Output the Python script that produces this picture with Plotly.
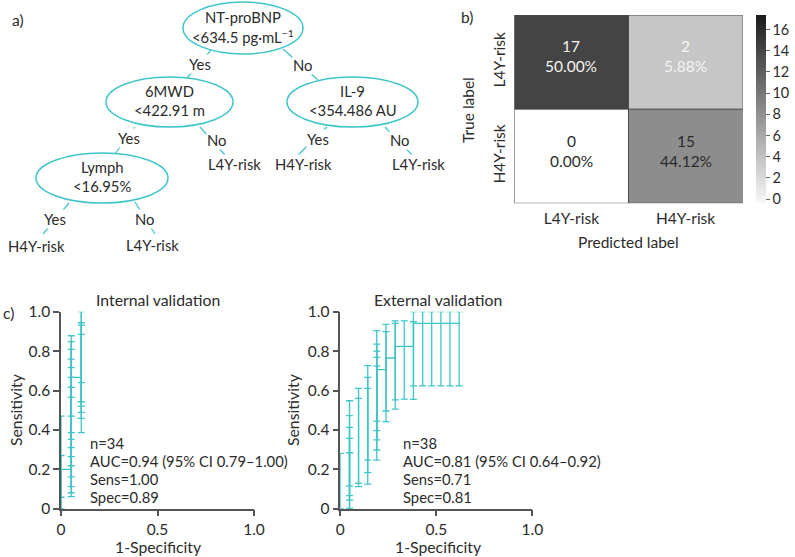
import plotly.graph_objects as go

W, H = 795, 557
FONT = "Lato"
TXT = "#2b2b2b"
CYAN = "#3ec5c9"
AXC = "#555555"

# ---------------- data ----------------
# a) decision tree
node_titles = ["NT-proBNP", "6MWD", "IL-9", "Lymph"]
node_rules = ["<634.5 pg·mL<sup>−1</sup>", "<422.91 m", "<354.486 AU", "<16.95%"]
edge_labels = ["Yes", "No", "Yes", "No", "Yes", "No", "Yes", "No"]
leaf_labels = ["L4Y-risk", "H4Y-risk", "L4Y-risk", "H4Y-risk", "L4Y-risk"]

# b) confusion matrix
cm_labels = ["L4Y-risk", "H4Y-risk"]
cm_counts = [[17, 2], [0, 15]]
cm_percent = [["50.00%", "5.88%"], ["0.00%", "44.12%"]]
cbar_ticks = [0, 2, 4, 6, 8, 10, 12, 14, 16]

# c) ROC with 95% CI - internal validation
int_fpr = [0.0, 0.0, 0.053, 0.053, 0.053, 0.053, 0.053, 0.053, 0.053, 0.053, 0.053,
           0.105, 0.105, 0.105, 0.105, 0.105]
int_sens = [0.067, 0.200, 0.200, 0.200, 0.267, 0.333, 0.400, 0.467, 0.533, 0.600, 0.667,
            0.600, 0.667, 0.733, 0.800, 0.867]
int_lo = [0.000, 0.058, 0.061, 0.081, 0.112, 0.162, 0.218, 0.264, 0.310, 0.352, 0.386,
          0.386, 0.459, 0.489, 0.521, 0.543]
int_hi = [0.270, 0.470, 0.470, 0.565, 0.616, 0.667, 0.716, 0.759, 0.809, 0.848, 0.878,
          0.640, 0.885, 0.932, 0.944, 1.000]
int_curve_x = [0.0, 0.0, 0.053, 0.053, 0.105, 0.105]
int_curve_y = [0.0, 0.200, 0.200, 0.667, 0.667, 1.0]
int_stats = ["n=34", "AUC=0.94 (95% CI 0.79–1.00)", "Sens=1.00", "Spec=0.89"]

# external validation
ext_fpr = [0.0,
           0.048, 0.048, 0.048, 0.048, 0.048,
           0.095, 0.095,
           0.143, 0.143, 0.143,
           0.190, 0.190, 0.190, 0.190, 0.190,
           0.238, 0.238,
           0.286, 0.286,
           0.333,
           0.381, 0.381,
           0.429, 0.476, 0.524, 0.571, 0.619]
ext_sens = [0.059,
            0.059, 0.118, 0.176, 0.235, 0.294,
            0.294, 0.353,
            0.353, 0.412, 0.471,
            0.471, 0.529, 0.588, 0.647, 0.706,
            0.706, 0.765,
            0.765, 0.824,
            0.824,
            0.824, 0.941,
            0.941, 0.941, 0.941, 0.941, 0.941]
ext_lo = [0.000,
          0.000, 0.002, 0.044, 0.066, 0.115,
          0.112, 0.129,
          0.125, 0.183, 0.247,
          0.247, 0.298, 0.349, 0.396, 0.445,
          0.442, 0.496,
          0.505, 0.552,
          0.556,
          0.555, 0.623,
          0.623, 0.623, 0.623, 0.623, 0.623]
ext_hi = [0.281,
          0.284, 0.357, 0.413, 0.472, 0.548,
          0.560, 0.611,
          0.611, 0.667, 0.726,
          0.724, 0.768, 0.800, 0.835, 0.904,
          0.899, 0.936,
          0.941, 0.953,
          0.953,
          0.949, 1.000,
          1.000, 1.000, 1.000, 1.000, 1.000]
ext_curve_x = [0.190, 0.238, 0.238, 0.286, 0.286, 0.381, 0.381, 0.619]
ext_curve_y = [0.706, 0.706, 0.765, 0.765, 0.824, 0.824, 0.941, 0.941]
ext_stats = ["n=38", "AUC=0.81 (95% CI 0.64–0.92)", "Sens=0.71", "Spec=0.81"]

roc_ticks_x = [0, 0.5, 1.0]
roc_ticktext_x = ["0", "0.5", "1.0"]
roc_ticks_y = [0, 0.2, 0.4, 0.6, 0.8, 1.0]
roc_ticktext_y = ["0", "0.2", "0.4", "0.6", "0.8", "1.0"]


# ---------------- helpers (layout positions in px) ----------------
def px(x):
    return x / W


def py(y):
    return 1 - y / H


def label(x, y, text, size=15.5, xanchor="center", angle=0, color=TXT):
    return dict(xref="paper", yref="paper", x=px(x), y=py(y), text=text,
                xanchor=xanchor, yanchor="middle", textangle=angle, showarrow=False,
                font=dict(size=size, color=color, family=FONT))


fig = go.Figure()
annotations = []
shapes = []
TREE_FS = 14.8

# ---------------- a) tree ----------------
node_centers = [(243, 28), (169.5, 102), (352.5, 102), (102, 178)]
node_radii = [(60, 26), (63.5, 25), (65.5, 25), (66, 25)]
edge_segments = [
    ((211, 50), (187, 78), (200, 64)),
    ((283, 49), (318, 80), (302, 65)),
    ((135, 127), (115, 154), (129, 138)),
    ((200, 127), (226, 156), (216, 140)),
    ((327, 127), (297, 156), (317.5, 139)),
    ((385, 127), (414, 157), (399, 140)),
    ((69, 203), (43, 234), (55, 218.5)),
    ((135, 202), (155, 234), (144, 219)),
]
leaf_pos = [(234, 164), (303, 164), (418.5, 164), (36, 246), (152, 245)]

for (x0, y0), (x1, y1), _ in edge_segments:
    shapes.append(dict(type="line", xref="x", yref="y", x0=x0, y0=y0, x1=x1, y1=y1,
                       line=dict(color=CYAN, width=1.2), layer="below"))
for (cx, cy), (rx, ry) in zip(node_centers, node_radii):
    shapes.append(dict(type="circle", xref="x", yref="y", x0=cx - rx, x1=cx + rx,
                       y0=cy - ry, y1=cy + ry, fillcolor="white",
                       line=dict(color=CYAN, width=1.5), layer="below"))
for (cx, cy), t, r in zip(node_centers, node_titles, node_rules):
    annotations.append(dict(xref="x", yref="y", x=cx, y=cy - 11, text=t, showarrow=False,
                            xanchor="center", yanchor="middle",
                            font=dict(size=TREE_FS, color=TXT, family=FONT)))
    annotations.append(dict(xref="x", yref="y", x=cx, y=cy + 8, text=r, showarrow=False,
                            xanchor="center", yanchor="middle",
                            font=dict(size=TREE_FS, color=TXT, family=FONT)))
for (_, _, (lx, ly)), lab in zip(edge_segments, edge_labels):
    annotations.append(dict(xref="x", yref="y", x=lx, y=ly, text=lab, showarrow=False,
                            xanchor="center", yanchor="middle",
                            bgcolor="white", borderpad=0,
                            font=dict(size=TREE_FS, color=TXT, family=FONT)))
for (lx, ly), lab in zip(leaf_pos, leaf_labels):
    annotations.append(dict(xref="x", yref="y", x=lx, y=ly, text=lab, showarrow=False,
                            xanchor="center", yanchor="middle",
                            bgcolor="white", borderpad=0,
                            font=dict(size=TREE_FS, color=TXT, family=FONT)))

# invisible trace so the tree axes exist
fig.add_trace(go.Scatter(x=[0], y=[0], mode="markers", marker=dict(size=0.1, opacity=0),
                         xaxis="x", yaxis="y", hoverinfo="skip", showlegend=False))

# ---------------- b) confusion matrix ----------------
cell_scale = [[0, "#ffffff"], [2 / 17, "#c6c6c6"], [15 / 17, "#8d8d8d"], [1, "#444444"]]
fig.add_trace(go.Heatmap(z=cm_counts, x=[0, 1], y=[0, 1], zmin=0, zmax=17,
                         colorscale=cell_scale, showscale=False, hoverinfo="skip",
                         xaxis="x2", yaxis="y2"))
# colour bar
fig.add_trace(go.Scatter(x=[0.5], y=[0.5], mode="markers", xaxis="x2", yaxis="y2",
                         hoverinfo="skip", showlegend=False,
                         marker=dict(size=0.1, opacity=0, color=[0], cmin=-0.38, cmax=17.35,
                                     colorscale=[[0, "#f8f8f8"], [0.5, "#8a8a8a"],
                                                 [1, "#1b1b1b"]],
                                     showscale=True,
                                     colorbar=dict(x=px(756), xanchor="left", xpad=0, ypad=0,
                                                   thickness=10,
                                                   len=(203.3 - 15) / H, lenmode="fraction",
                                                   y=py((15 + 203.3) / 2), yanchor="middle",
                                                   outlinewidth=0, tickvals=cbar_ticks,
                                                   ticks="outside", ticklen=4,
                                                   tickcolor="#666", tickwidth=1,
                                                   tickfont=dict(size=14.5, color=TXT,
                                                                 family=FONT)))))
for i in range(2):
    for j in range(2):
        light = cm_counts[i][j] in (17, 2)
        annotations.append(dict(xref="x2", yref="y2", x=j, y=i - 0.06,
                                text=f"{cm_counts[i][j]}<br>{cm_percent[i][j]}",
                                showarrow=False, align="center",
                                xanchor="center", yanchor="middle",
                                font=dict(size=15.5, family=FONT,
                                          color="#f4f4f4" if light else "#2b2b2b")))
shapes.append(dict(type="rect", xref="x2", yref="y2", x0=-0.5, x1=1.5, y0=-0.5, y1=1.5,
                   line=dict(color="#4a4a4a", width=1)))
shapes.append(dict(type="line", xref="x2", yref="y2", x0=0.5, x1=0.5, y0=-0.5, y1=1.5,
                   line=dict(color="#4a4a4a", width=1)))
shapes.append(dict(type="line", xref="x2", yref="y2", x0=-0.5, x1=1.5, y0=0.5, y1=0.5,
                   line=dict(color="#4a4a4a", width=1)))
annotations.append(label(468, 110, "True label", angle=-90))
annotations.append(label(628, 242, "Predicted label"))


# ---------------- c) ROC curves ----------------
def add_roc(fpr, sens, lo, hi, cx, cy, xa, ya):
    fig.add_trace(go.Scatter(
        x=fpr, y=sens, mode="markers", marker=dict(size=0.1, color=CYAN),
        error_y=dict(type="data", symmetric=False,
                     array=[h - s for h, s in zip(hi, sens)],
                     arrayminus=[s - l for s, l in zip(sens, lo)],
                     color=CYAN, thickness=1.3, width=3.5),
        cliponaxis=False, xaxis=xa, yaxis=ya, hoverinfo="skip", showlegend=False))
    fig.add_trace(go.Scatter(x=cx, y=cy, mode="lines", line=dict(color=CYAN, width=1.3),
                             cliponaxis=False, xaxis=xa, yaxis=ya, hoverinfo="skip",
                             showlegend=False))


add_roc(int_fpr, int_sens, int_lo, int_hi, int_curve_x, int_curve_y, "x3", "y3")
add_roc(ext_fpr, ext_sens, ext_lo, ext_hi, ext_curve_x, ext_curve_y, "x4", "y4")

for left, stats in ((88, int_stats), (400.7, ext_stats)):
    for k, s in enumerate(stats):
        annotations.append(label(left, 443.3 + 17.8 * k, s, size=14.8, xanchor="left"))

for cxp, title in ((158, "Internal validation"), (438, "External validation")):
    annotations.append(label(cxp, 299, title, size=15.8))
    annotations.append(label(cxp, 546.7, "1-Specificity", size=15.8))
for sx in (15, 292):
    annotations.append(label(sx, 410, "Sensitivity", angle=-90, size=15.8))

# panel letters
for lx, ly, t in ((18, 20, "a)"), (467, 17, "b)"), (8, 313, "c)")):
    annotations.append(label(lx, ly, t))

hidden = dict(visible=False, showgrid=False, zeroline=False)
roc_x = dict(range=[0, 1], tickvals=roc_ticks_x, ticktext=roc_ticktext_x, showline=True,
             linecolor=AXC, linewidth=1.5, ticks="outside", ticklen=6, tickwidth=1.5,
             tickcolor=AXC, showgrid=False, zeroline=False, layer="below traces",
             tickfont=dict(size=15.5, color=TXT, family=FONT))
roc_y = dict(range=[0, 1], tickvals=roc_ticks_y, ticktext=roc_ticktext_y, showline=True,
             linecolor=AXC, linewidth=1.5, ticks="outside", ticklen=6, tickwidth=1.5,
             tickcolor=AXC, showgrid=False, zeroline=False, layer="below traces",
             tickfont=dict(size=15.5, color=TXT, family=FONT))

int_y_dom = [py(508.7), py(311.7)]

fig.update_layout(
    width=W, height=H, margin=dict(l=0, r=0, t=0, b=0, pad=0, autoexpand=False),
    paper_bgcolor="white", plot_bgcolor="white",
    font=dict(family=FONT, color=TXT),
    xaxis=dict(domain=[0, px(460)], range=[0, 460], **hidden),
    yaxis=dict(domain=[py(260), 1], range=[260, 0], **hidden),
    xaxis2=dict(domain=[px(514.3), px(742.7)], range=[-0.5, 1.5], tickvals=[0, 1],
                ticktext=cm_labels, showgrid=False, zeroline=False, showline=False,
                ticks="outside", ticklen=1, tickcolor="rgba(0,0,0,0)",
                tickfont=dict(size=15.5, color=TXT, family=FONT), anchor="y2",
                automargin=False),
    yaxis2=dict(domain=[py(203.3), py(15)], range=[1.5, -0.5], tickvals=[0, 1],
                ticktext=cm_labels, showgrid=False, zeroline=False, showline=False,
                ticks="outside", ticklen=2, tickcolor="rgba(0,0,0,0)", tickangle=-90,
                tickfont=dict(size=15.5, color=TXT, family=FONT), anchor="x2",
                automargin=False),
    xaxis3=dict(domain=[px(61), px(254)], anchor="y3", automargin=False, **roc_x),
    yaxis3=dict(domain=int_y_dom, anchor="x3", automargin=False, **roc_y),
    xaxis4=dict(domain=[px(340.3), px(532.3)], anchor="y4", automargin=False, **roc_x),
    yaxis4=dict(domain=int_y_dom, anchor="x4", automargin=False, **roc_y),
    annotations=annotations, shapes=shapes, showlegend=False,
)

fig.write_html("out.html", config={"displayModeBar": False},
               post_script="document.body.style.margin='0';")
